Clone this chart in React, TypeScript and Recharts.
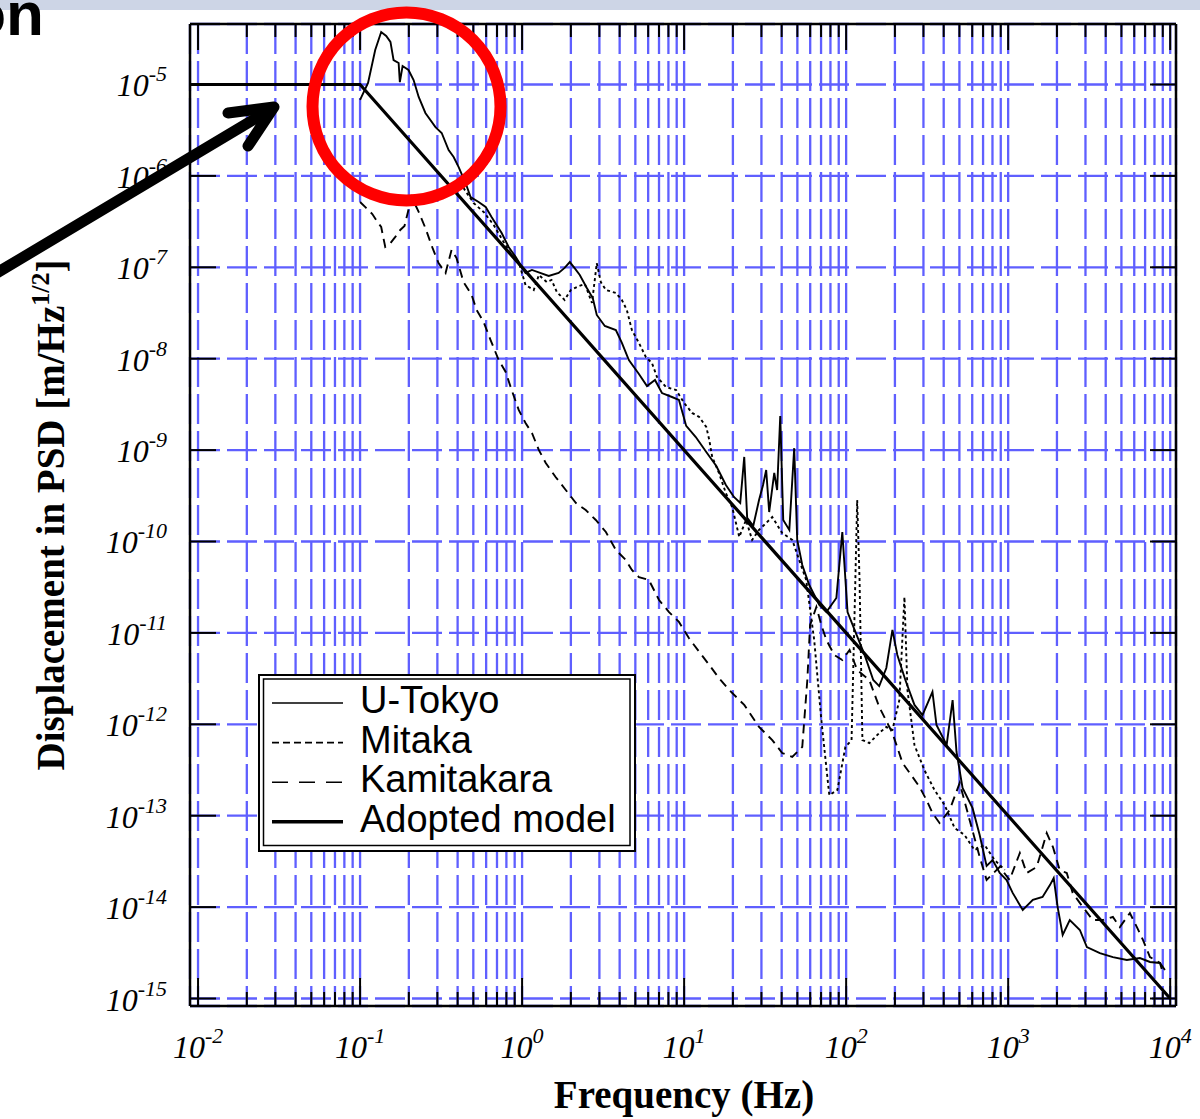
import React from "react";
import { CartesianGrid, Line, LineChart, XAxis, YAxis } from "recharts";

// [frequency Hz, displacement m/Hz^1/2]
const uTokyo: [number, number][] = [
  [0.1, 6.8e-6], [0.112, 1.04e-5], [0.124, 2.38e-5], [0.135, 3.75e-5], [0.145, 3.39e-5],
  [0.154, 2.92e-5], [0.161, 1.85e-5], [0.173, 1.72e-5], [0.176, 1.06e-5], [0.183, 1.59e-5],
  [0.199, 1.44e-5], [0.214, 1.12e-5], [0.23, 7.3e-6], [0.253, 4.88e-6], [0.292, 3.42e-6],
  [0.319, 2.95e-6], [0.352, 1.92e-6], [0.378, 1.61e-6], [0.406, 1.25e-6], [0.448, 8.36e-7],
  [0.481, 5.87e-7], [0.539, 5.18e-7], [0.596, 4.57e-7], [0.648, 3.55e-7], [0.748, 2.37e-7],
  [0.826, 1.67e-7], [0.912, 1.3e-7], [1.05, 8.67e-8], [1.15, 9.35e-8], [1.46, 8.03e-8],
  [1.68, 8.67e-8], [1.83, 9.84e-8], [1.97, 1.14e-7], [2.11, 9.8e-8], [2.27, 8.25e-8],
  [2.51, 5.93e-8], [2.73, 4.61e-8], [2.89, 3.01e-8], [3.24, 2.28e-8], [3.79, 2.06e-8],
  [4.13, 1.49e-8], [4.56, 9.67e-9], [5.26, 6.79e-9], [5.9, 5.02e-9], [6.61, 5.84e-9],
  [7.3, 4.21e-9], [8.41, 3.81e-9], [9.29, 3.54e-9], [10.3, 1.84e-9], [11.8, 1.39e-9],
  [13.7, 9.53e-10], [15.8, 6.7e-10], [18.1, 4.15e-10], [20.3, 3.07e-10], [22.2, 2.64e-10],
  [23.5, 8.42e-10], [24.5, 1.81e-10], [26.7, 1.48e-10], [29.0, 2.84e-10], [30.7, 4.15e-10],
  [32.1, 6.05e-10], [33.5, 2.1e-10], [36.0, 5.62e-10], [37.5, 3.66e-10], [39.2, 2.36e-9],
  [40.9, 1.72e-10], [44.6, 1.34e-10], [47.8, 1.05e-9], [49.9, 1.04e-10], [53.6, 5.53e-11],
  [59.2, 3.34e-11], [68.3, 2.02e-11], [75.5, 1.69e-11], [87.0, 2.41e-11], [94.7, 1.27e-10],
  [102, 1.69e-11], [116, 9.5e-12], [130, 5.74e-12], [147, 3.05e-12], [160, 2.62e-12],
  [177, 4.13e-12], [193, 1.08e-11], [207, 5.74e-12], [232, 3.05e-12], [264, 1.63e-12],
  [296, 1.26e-12], [341, 2.26e-12], [361, 9.84e-13], [417, 5.93e-13], [454, 1.84e-12],
  [480, 4.98e-13], [523, 2.01e-13], [603, 1.21e-13], [667, 6.16e-14], [736, 2.82e-14],
  [802, 3.28e-14], [887, 2.36e-14], [978, 1.98e-14], [1066, 1.43e-14], [1230, 9.3e-15],
  [1420, 1.2e-14], [1630, 1.29e-14], [1810, 1.74e-14], [1910, 2.08e-14], [2020, 1.0e-14],
  [2170, 4.95e-15], [2400, 7.22e-15], [2770, 5.62e-15], [3060, 3.66e-15], [3680, 3.14e-15],
  [4430, 2.84e-15], [5400, 2.64e-15], [6500, 2.77e-15], [7500, 2.51e-15], [8650, 2.45e-15],
  [9280, 2.05e-15],
];

const mitaka: [number, number][] = [
  [0.246, 5.59e-7], [0.305, 6.19e-7], [0.378, 7.37e-7], [0.435, 7.37e-7], [0.502, 5.05e-7],
  [0.579, 4.03e-7], [0.668, 2.9e-7], [0.769, 1.89e-7], [0.862, 1.36e-7], [0.953, 1.14e-7],
  [1.05, 6.4e-8], [1.18, 5.65e-8], [1.27, 8.25e-8], [1.42, 6.9e-8], [1.52, 7.27e-8],
  [1.64, 5.36e-8], [1.83, 4.39e-8], [2.0, 5.65e-8], [2.24, 6.24e-8], [2.44, 6.56e-8],
  [2.7, 4.07e-8], [2.89, 1.11e-7], [3.06, 6.9e-8], [3.29, 5.65e-8], [3.79, 5.24e-8],
  [4.13, 4.39e-8], [4.43, 3.41e-8], [4.76, 2.06e-8], [5.26, 1.49e-8], [5.81, 1.04e-8],
  [6.33, 8.97e-9], [6.8, 6.31e-9], [7.73, 4.9e-9], [8.93, 4.54e-9], [10.0, 3.28e-9],
  [11.2, 2.55e-9], [12.4, 2.3e-9], [13.7, 1.79e-9], [14.3, 1.29e-9], [14.9, 8.42e-10],
  [16.4, 5.62e-10], [18.1, 3.39e-10], [19.8, 2.38e-10], [21.9, 1.12e-10], [24.1, 1.72e-10],
  [26.3, 1.04e-10], [29.0, 1.34e-10], [35.0, 1.85e-10], [40.3, 1.24e-10], [46.5, 1.04e-10],
  [51.3, 6.27e-11], [56.7, 3.79e-11], [63.5, 8.36e-12], [70.3, 1.11e-12], [78.7, 1.68e-13],
  [88.3, 1.91e-13], [98.9, 5.65e-13], [108, 6.72e-13], [114, 3.79e-11], [117, 2.84e-10],
  [121, 3.79e-11], [126, 6.72e-13], [139, 6.24e-13], [160, 8.03e-13], [177, 9.35e-13],
  [193, 8.67e-13], [213, 1.84e-12], [229, 2.47e-11], [239, 2.37e-12], [264, 5.93e-13],
  [304, 3.16e-13], [351, 1.91e-13], [405, 1.31e-13], [467, 7.34e-14], [538, 6.16e-14],
  [620, 4.21e-14], [716, 4.78e-14], [825, 3.28e-14], [952, 2.55e-14],
];

const kamitakara: [number, number][] = [
  [0.1, 5.18e-7], [0.109, 4.46e-7], [0.119, 3.83e-7], [0.128, 3.13e-7], [0.135, 2.76e-7],
  [0.143, 1.67e-7], [0.154, 1.84e-7], [0.165, 2.15e-7], [0.177, 2.56e-7], [0.188, 2.83e-7],
  [0.208, 5.87e-7], [0.23, 4.03e-7], [0.253, 2.69e-7], [0.28, 1.63e-7], [0.305, 1.11e-7],
  [0.337, 8.67e-8], [0.367, 1.55e-7], [0.394, 1.26e-7], [0.435, 6.9e-8], [0.488, 4.98e-8],
  [0.524, 3.41e-8], [0.579, 2.52e-8], [0.639, 1.6e-8], [0.717, 9.67e-9], [0.792, 7.15e-9],
  [0.862, 4.54e-9], [0.953, 2.75e-9], [1.05, 1.98e-9], [1.15, 1.54e-9], [1.27, 1.0e-9],
  [1.4, 7.22e-10], [1.61, 5.08e-10], [1.86, 3.66e-10], [2.15, 2.64e-10], [2.47, 2.21e-10],
  [2.85, 1.72e-10], [3.29, 1.27e-10], [3.79, 8.08e-11], [4.37, 6.27e-11], [4.76, 4.88e-11],
  [5.26, 4.08e-11], [6.06, 3.79e-11], [7.0, 2.29e-11], [8.07, 1.69e-11], [9.29, 1.32e-11],
  [10.7, 8.78e-12], [12.4, 6.19e-12], [14.3, 4.46e-12], [16.4, 3.21e-12], [19.0, 2.37e-12],
  [23.5, 1.63e-12], [29.0, 9.35e-13], [35.0, 6.72e-13], [40.3, 4.85e-13], [46.5, 4.39e-13],
  [53.6, 5.65e-13], [57.6, 3.05e-12], [59.9, 1.22e-11], [65.5, 1.92e-11], [70.3, 1.22e-11],
  [75.5, 8.36e-12], [84.5, 5.74e-12], [94.7, 5.05e-12], [105, 6.5e-12], [117, 3.93e-12],
  [139, 3.05e-12], [160, 1.55e-12], [193, 8.03e-13], [223, 3.77e-13], [257, 2.65e-13],
  [284, 2.06e-13], [313, 1.49e-13], [341, 1.07e-13], [377, 8.32e-14], [435, 1.15e-13],
  [502, 2.28e-13], [578, 8.97e-14], [667, 3.54e-14], [736, 1.98e-14], [887, 2.75e-14],
  [1020, 1.98e-14], [1180, 3.91e-14], [1300, 2.36e-14], [1500, 2.75e-14], [1730, 6.46e-14],
  [1890, 4.54e-14], [2080, 2.55e-14], [2300, 2.36e-14], [2500, 1.43e-14], [2890, 1.0e-14],
  [3330, 7.22e-15], [3840, 7.22e-15], [4430, 7.8e-15], [4890, 6.05e-15], [5640, 8.6e-15],
  [6230, 6.05e-15], [6790, 4.37e-15], [7500, 2.84e-15], [8650, 2.45e-15], [9010, 1.9e-15],
];

// flat 1e-5 below 0.1 Hz, then f^-2
const adoptedModel: [number, number][] = [
  [0.009, 1e-5], [0.1, 1e-5], [10000, 1e-15],
];

const xDecades = [-2, -1, 0, 1, 2, 3, 4];
const yDecades = [-15, -14, -13, -12, -11, -10, -9, -8, -7, -6, -5];
const minorSteps = [2, 3, 4, 5, 6, 7, 8, 9];

const xTicks = xDecades.flatMap((d, i) =>
  i === xDecades.length - 1
    ? [10 ** d]
    : [10 ** d, ...minorSteps.map((m) => Number((m * 10 ** d).toPrecision(3)))]
);
const yTicks = yDecades.map((d) => 10 ** d);

const xDomain = [8.92e-3, 1.086e4];
const yDomain = [8.28e-16, 4.59e-5];

const SERIF = '"Liberation Serif", "Times New Roman", serif';
const SANS = '"Liberation Sans", Arial, sans-serif';
const GRID = "#5f5fff";

const series = [
  { name: "Kamitakara", data: kamitakara, dash: "9 6", legendDash: "16 11", width: 1.9 },
  { name: "Mitaka", data: mitaka, dash: "3 3", legendDash: "7 4", width: 1.9 },
  { name: "U-Tokyo", data: uTokyo, dash: undefined, legendDash: undefined, width: 1.9 },
  { name: "Adopted model", data: adoptedModel, dash: undefined, legendDash: undefined, width: 3.2 },
];
const legendOrder = ["U-Tokyo", "Mitaka", "Kamitakara", "Adopted model"];

const toPoints = (arr: [number, number][]) => arr.map(([f, psd]) => ({ f, psd }));

const exponentOf = (v: number) => Math.round(Math.log10(v));
const isMajor = (v: number) => Math.abs(Math.log10(v) - exponentOf(v)) < 1e-6;

function PowerLabel({ x, y, exp, anchor }: any) {
  return (
    <text x={x} y={y} textAnchor={anchor} fontFamily={SERIF} fontStyle="italic" fontSize={32} fill="#000">
      10
      <tspan dy={-15} fontSize={22}>{exp}</tspan>
    </text>
  );
}

function BottomTick({ x, y, payload }: any) {
  const v = payload.value;
  const major = isMajor(v);
  return (
    <g>
      <line x1={x} x2={x} y1={y} y2={y - (major ? 28 : 14)} stroke="#000" strokeWidth={2} />
      {major && <PowerLabel x={x} y={y + 52} exp={exponentOf(v)} anchor="middle" />}
    </g>
  );
}

function TopTick({ x, y, payload }: any) {
  const major = isMajor(payload.value);
  return <line x1={x} x2={x} y1={y} y2={y + (major ? 26 : 13)} stroke="#000" strokeWidth={2} />;
}

function LeftTick({ x, y, payload }: any) {
  return (
    <g>
      <line x1={x} x2={x + 26} y1={y} y2={y} stroke="#000" strokeWidth={2} />
      <PowerLabel x={x - 23} y={y + 12} exp={exponentOf(payload.value)} anchor="end" />
    </g>
  );
}

function RightTick({ x, y }: any) {
  return <line x1={x} x2={x - 26} y1={y} y2={y} stroke="#000" strokeWidth={2} />;
}

function LegendBox() {
  const rows = legendOrder.map((n) => series.find((s) => s.name === n)!);
  return (
    <g>
      <rect x={259} y={675} width={376} height={176} fill="#fff" stroke="#000" strokeWidth={2} />
      <rect x={263.5} y={679} width={366.5} height={166.5} fill="none" stroke="#000" strokeWidth={1.5} />
      {rows.map((s, i) => {
        const cy = 703 + i * 39.6;
        return (
          <g key={s.name}>
            <line
              x1={272}
              x2={343}
              y1={cy}
              y2={cy}
              stroke="#000"
              strokeWidth={s.name === "Adopted model" ? 3.5 : 1.6}
              strokeDasharray={s.legendDash}
            />
            <text x={360} y={cy + 10} fontFamily={SANS} fontSize={38} fill="#000">
              {s.name}
            </text>
          </g>
        );
      })}
    </g>
  );
}

const axisFrame = { stroke: "#000", strokeWidth: 2.5 };

export default function App() {
  return (
    <div style={{ position: "absolute", left: 0, top: 0, width: 1200, height: 1119, background: "#fff", overflow: "hidden" }}>
      <div style={{ position: "absolute", left: 0, top: 0 }}>
        <LineChart width={1200} height={1119} margin={{ top: 23, right: 23, bottom: 112, left: 189 }}>
          <CartesianGrid
            stroke={GRID}
            strokeWidth={2.3}
            strokeDasharray="30 7"
            horizontal={{ stroke: GRID, strokeWidth: 2.3, strokeDasharray: "40 8" }}
            vertical={{ stroke: GRID, strokeWidth: 2.3, strokeDasharray: "30 7" }}
          />
          <XAxis
            xAxisId={0}
            type="number"
            dataKey="f"
            scale="log"
            domain={xDomain}
            allowDataOverflow
            ticks={xTicks}
            interval={0}
            height={1}
            tickSize={0}
            tickMargin={0}
            tickLine={false}
            axisLine={axisFrame}
            tick={<BottomTick />}
          />
          <XAxis
            xAxisId="top"
            orientation="top"
            type="number"
            dataKey="f"
            scale="log"
            domain={xDomain}
            allowDataOverflow
            ticks={xTicks}
            interval={0}
            height={1}
            tickSize={0}
            tickMargin={0}
            tickLine={false}
            axisLine={axisFrame}
            tick={<TopTick />}
          />
          <YAxis
            yAxisId={0}
            type="number"
            dataKey="psd"
            scale="log"
            domain={yDomain}
            allowDataOverflow
            ticks={yTicks}
            interval={0}
            width={1}
            tickSize={0}
            tickMargin={0}
            tickLine={false}
            axisLine={axisFrame}
            tick={<LeftTick />}
          />
          <YAxis
            yAxisId="right"
            orientation="right"
            type="number"
            dataKey="psd"
            scale="log"
            domain={yDomain}
            allowDataOverflow
            ticks={yTicks}
            interval={0}
            width={1}
            tickSize={0}
            tickMargin={0}
            tickLine={false}
            axisLine={axisFrame}
            tick={<RightTick />}
          />
          {series.map((s) => (
            <Line
              key={s.name}
              xAxisId={0}
              yAxisId={0}
              data={toPoints(s.data)}
              dataKey="psd"
              type="linear"
              stroke="#000"
              strokeWidth={s.width}
              strokeDasharray={s.dash}
              dot={false}
              activeDot={false}
              isAnimationActive={false}
            />
          ))}
        </LineChart>
      </div>
      <svg width={1200} height={1119} style={{ position: "absolute", left: 0, top: 0, pointerEvents: "none" }}>
        <LegendBox />
        <text x={684} y={1108} textAnchor="middle" fontFamily={SERIF} fontWeight="bold" fontSize={39} fill="#000">
          Frequency (Hz)
        </text>
        <text
          transform="translate(64,515) rotate(-90)"
          textAnchor="middle"
          fontFamily={SERIF}
          fontWeight="bold"
          fontSize={39}
          fill="#000"
        >
          Displacement in PSD [m/Hz
          <tspan dy={-15} fontSize={26}>1/2</tspan>
          <tspan dy={15}>]</tspan>
        </text>
        <rect x={0} y={0} width={1200} height={10} fill="#cdd5e6" />
        <text x={44} y={35} textAnchor="end" fontFamily={SANS} fontWeight="bold" fontSize={62} fill="#000">
          on
        </text>
        <circle cx={406.5} cy={106.5} r={94} fill="none" stroke="#ff0000" strokeWidth={12} />
        <line x1={-10} y1={277} x2={268} y2={111} stroke="#000" strokeWidth={11} strokeLinecap="round" />
        <polyline
          points="228,113 274,107 248,146"
          fill="none"
          stroke="#000"
          strokeWidth={11}
          strokeLinecap="round"
          strokeLinejoin="round"
        />
      </svg>
    </div>
  );
}
